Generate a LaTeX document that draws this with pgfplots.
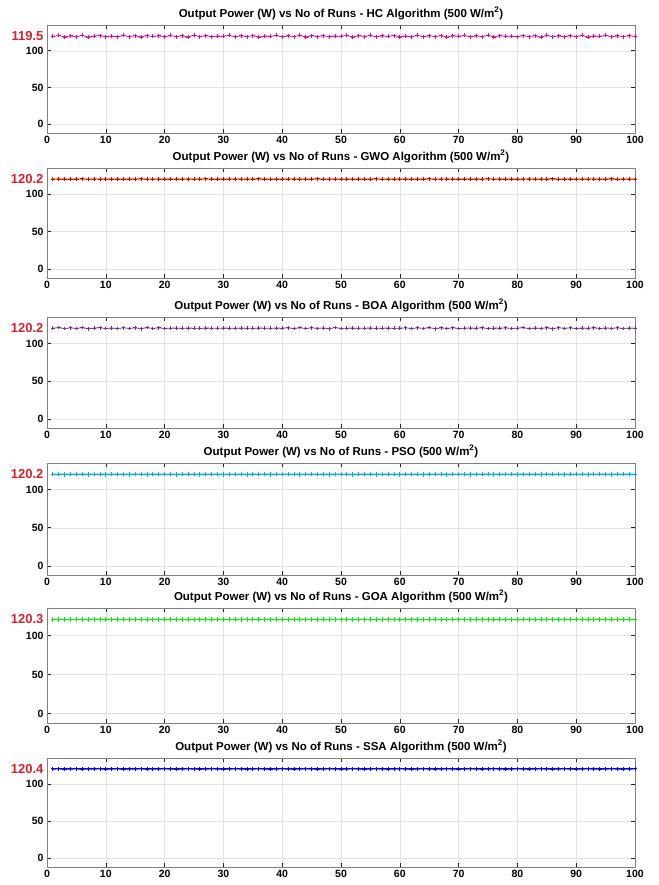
\documentclass[border=0pt]{standalone}
\usepackage{fontspec}
\setmainfont{Liberation Sans}
\usepackage{pgfplots}
\usepackage{pgfplotstable}
\pgfplotsset{compat=1.18}
\definecolor{gwoline}{RGB}{232,96,30}
\definecolor{boacol}{RGB}{126,47,142}
\definecolor{goacol}{RGB}{20,230,20}
\definecolor{lblred}{RGB}{220,30,40}
\pgfplotstableread{
x hc gwo boa pso goa ssa
1 119.5 120.2 120.2 120.2 120.3 120.4
2 120.8 120.4 120.9 120.3 120.4 120.5
3 118.7 120.0 119.6 120.1 120.2 120.3
4 120.3 120.3 120.7 120.2 120.3 120.4
5 119.0 120.1 119.8 120.2 120.3 120.5
6 121.0 120.5 121.0 120.3 120.4 120.3
7 118.6 119.9 119.5 120.1 120.2 120.4
8 119.9 120.2 120.4 120.2 120.3 120.4
9 120.6 120.3 120.8 120.3 120.4 120.5
10 118.9 120.0 119.7 120.1 120.2 120.3
11 120.1 120.1 120.5 120.2 120.3 120.4
12 118.8 120.4 119.6 120.2 120.4 120.5
13 120.9 120.0 120.8 120.3 120.2 120.3
14 119.2 120.3 119.9 120.1 120.3 120.4
15 120.5 120.2 120.6 120.2 120.3 120.4
16 118.6 120.5 119.5 120.3 120.4 120.5
17 120.7 119.9 120.9 120.1 120.2 120.3
18 119.4 120.2 120.0 120.2 120.3 120.4
19 120.2 120.4 120.7 120.2 120.4 120.4
20 118.9 120.0 119.8 120.3 120.2 120.5
21 120.8 120.2 120.2 120.2 120.3 120.4
22 119.1 120.3 120.3 120.1 120.4 120.3
23 120.4 120.1 120.1 120.2 120.3 120.4
24 118.7 120.4 120.3 120.3 120.2 120.5
25 120.9 120.0 120.2 120.2 120.3 120.4
26 119.3 120.2 120.1 120.1 120.4 120.3
27 120.6 120.5 120.3 120.2 120.3 120.4
28 118.8 120.1 120.2 120.3 120.2 120.5
29 120.0 120.3 120.1 120.2 120.3 120.4
30 119.6 120.0 120.3 120.1 120.4 120.3
31 121.0 120.2 120.2 120.2 120.3 120.4
32 118.9 120.4 120.1 120.3 120.2 120.5
33 120.3 120.1 120.3 120.2 120.3 120.4
34 119.0 120.3 120.2 120.1 120.4 120.3
35 120.7 120.0 120.1 120.2 120.3 120.4
36 118.6 120.5 120.3 120.3 120.2 120.5
37 120.1 120.2 120.2 120.2 120.3 120.4
38 119.5 119.9 120.1 120.1 120.4 120.3
39 120.8 120.3 120.3 120.2 120.3 120.4
40 118.8 120.1 120.2 120.3 120.2 120.5
41 120.2 120.2 120.6 120.2 120.3 120.4
42 119.3 120.4 119.7 120.2 120.4 120.3
43 120.9 120.0 120.9 120.1 120.2 120.4
44 118.7 120.3 119.6 120.3 120.3 120.5
45 120.4 120.1 120.8 120.2 120.3 120.4
46 119.1 120.5 119.9 120.2 120.4 120.3
47 120.6 119.9 120.5 120.3 120.2 120.4
48 118.9 120.2 119.5 120.1 120.3 120.5
49 120.0 120.4 121.0 120.2 120.3 120.4
50 119.6 120.0 119.8 120.3 120.4 120.3
51 120.8 120.3 120.2 120.2 120.3 120.4
52 118.6 120.1 120.3 120.1 120.2 120.5
53 120.5 120.4 120.1 120.2 120.3 120.4
54 119.2 120.0 120.2 120.3 120.4 120.3
55 120.9 120.2 120.3 120.2 120.3 120.4
56 118.8 120.5 120.1 120.1 120.2 120.5
57 120.3 119.9 120.2 120.2 120.3 120.4
58 119.4 120.3 120.3 120.3 120.4 120.3
59 120.7 120.1 120.1 120.2 120.3 120.4
60 118.7 120.2 120.2 120.1 120.2 120.5
61 120.1 120.4 120.7 120.2 120.3 120.4
62 119.0 120.0 119.6 120.3 120.4 120.3
63 121.0 120.3 120.8 120.2 120.2 120.4
64 118.9 120.1 119.8 120.1 120.3 120.5
65 120.4 120.5 120.9 120.2 120.3 120.4
66 119.3 119.9 119.5 120.3 120.4 120.3
67 120.6 120.2 120.6 120.2 120.2 120.4
68 118.6 120.4 119.9 120.1 120.3 120.5
69 120.2 120.0 120.7 120.2 120.3 120.4
70 119.5 120.3 119.7 120.3 120.4 120.3
71 120.8 120.1 120.2 120.2 120.3 120.4
72 118.8 120.4 120.4 120.1 120.2 120.5
73 120.3 120.0 120.1 120.2 120.3 120.4
74 119.1 120.2 120.8 120.3 120.4 120.3
75 120.9 120.5 119.7 120.2 120.3 120.4
76 118.7 119.9 120.3 120.1 120.2 120.5
77 120.5 120.3 120.2 120.2 120.3 120.4
78 119.4 120.1 120.6 120.3 120.4 120.3
79 120.0 120.4 119.8 120.2 120.3 120.4
80 118.9 120.0 120.2 120.1 120.2 120.5
81 120.7 120.2 120.9 120.2 120.3 120.4
82 119.2 120.4 119.6 120.3 120.4 120.3
83 120.4 120.1 120.5 120.2 120.2 120.4
84 118.6 120.3 119.9 120.1 120.3 120.5
85 120.9 120.0 120.7 120.2 120.3 120.4
86 119.0 120.5 119.5 120.3 120.4 120.3
87 120.2 119.9 120.8 120.2 120.2 120.4
88 118.8 120.2 120.0 120.1 120.3 120.5
89 120.6 120.4 120.6 120.2 120.3 120.4
90 119.3 120.0 119.7 120.3 120.4 120.3
91 120.8 120.3 120.4 120.2 120.3 120.4
92 118.7 120.1 120.1 120.1 120.2 120.5
93 120.1 120.4 120.7 120.2 120.3 120.4
94 119.5 120.0 119.8 120.3 120.4 120.3
95 121.0 120.2 120.5 120.2 120.3 120.4
96 118.9 120.5 120.0 120.1 120.2 120.5
97 120.3 119.9 120.6 120.2 120.3 120.4
98 119.1 120.2 119.9 120.3 120.4 120.3
99 120.6 120.3 120.3 120.2 120.3 120.4
100 119.4 120.1 120.2 120.1 120.2 120.5
}\data
\pgfplotsset{panel/.style={
  scale only axis, width=588pt,
  xmin=0, xmax=100, ymin=-12, ymax=135,
  xtick={0,10,...,100}, ytick={0,50,100},
  grid=major, major grid style={gray!22, line width=0.4pt},
  tick align=inside, major tick length=4pt,
  tick style={black!85, line width=0.6pt},
  axis line style={black!50, line width=0.8pt},
  ticklabel style={font=\bfseries\fontsize{10.5}{11}\selectfont},
  /pgf/number format/assume math mode=true,
  title style={font=\bfseries\fontsize{11.5}{13}\selectfont, yshift=-4pt},
  extra y tick style={grid=none, major tick length=0pt,
     yticklabel style={text=lblred, font=\bfseries\fontsize{13}{14}\selectfont}},
}}
\begin{document}
\begin{tikzpicture}
\path[use as bounding box] (0pt,0pt) rectangle (658pt,-885pt);
\begin{axis}[panel, height=108pt, at={(47pt,-133pt)}, anchor=south west,
  title={Output Power (W) vs No of Runs - HC Algorithm (500 W/m$^{\mathbf{2}}$)},
  extra y ticks={119.5}, extra y tick labels={119.5}]
\addplot[color=magenta, mark=+, mark size=2pt, line width=0.8pt, mark options={draw=magenta, line width=0.8pt}] table[x=x,y=hc]{\data};
\end{axis}
\begin{axis}[panel, height=110pt, at={(47pt,-278pt)}, anchor=south west,
  title={Output Power (W) vs No of Runs - GWO Algorithm (500 W/m$^{\mathbf{2}}$)},
  extra y ticks={120.2}, extra y tick labels={120.2}]
\addplot[color=gwoline, mark=+, mark size=2.2pt, line width=1.4pt, mark options={draw=red!85!black, line width=0.8pt}] table[x=x,y=gwo]{\data};
\end{axis}
\begin{axis}[panel, height=111pt, at={(47pt,-428pt)}, anchor=south west,
  title={Output Power (W) vs No of Runs - BOA Algorithm (500 W/m$^{\mathbf{2}}$)},
  extra y ticks={120.2}, extra y tick labels={120.2}]
\addplot[color=boacol, mark=+, mark size=1.8pt, line width=0.8pt, mark options={draw=boacol, line width=0.8pt}] table[x=x,y=boa]{\data};
\end{axis}
\begin{axis}[panel, height=112pt, at={(47pt,-575pt)}, anchor=south west,
  title={Output Power (W) vs No of Runs - PSO (500 W/m$^{\mathbf{2}}$)},
  extra y ticks={120.2}, extra y tick labels={120.2}]
\addplot[color=cyan, mark=+, mark size=2.2pt, line width=1.4pt, mark options={draw=cyan, line width=0.8pt}] table[x=x,y=pso]{\data};
\end{axis}
\begin{axis}[panel, height=115pt, at={(47pt,-723pt)}, anchor=south west,
  title={Output Power (W) vs No of Runs - GOA Algorithm (500 W/m$^{\mathbf{2}}$)},
  extra y ticks={120.3}, extra y tick labels={120.3}]
\addplot[color=goacol, mark=+, mark size=2.2pt, line width=1.4pt, mark options={draw=goacol, line width=0.8pt}] table[x=x,y=goa]{\data};
\end{axis}
\begin{axis}[panel, height=109pt, at={(47pt,-867pt)}, anchor=south west,
  title={Output Power (W) vs No of Runs - SSA Algorithm (500 W/m$^{\mathbf{2}}$)},
  extra y ticks={120.4}, extra y tick labels={120.4}]
\addplot[color=blue, mark=+, mark size=2.2pt, line width=1.4pt, mark options={draw=blue, line width=0.8pt}] table[x=x,y=ssa]{\data};
\end{axis}
\end{tikzpicture}
\end{document}
